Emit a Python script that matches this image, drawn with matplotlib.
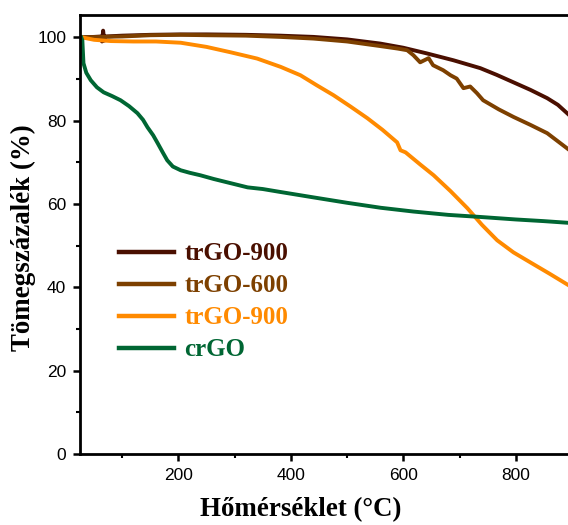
import matplotlib
matplotlib.use("Agg")
import matplotlib.pyplot as plt
from matplotlib.ticker import MultipleLocator

# TGA curves, temperature in C and remaining mass in %
t_900 = [28, 50, 62, 64, 66, 68, 70, 100, 150, 204, 250, 320, 381, 440, 500, 559, 600,
         643, 689, 737, 766, 796, 826, 856, 875, 893]
m_900 = [100, 100.1, 100.2, 99.0, 101.6, 99.2, 100.2, 100.4, 100.6, 100.7, 100.7, 100.6,
         100.4, 100.1, 99.5, 98.5, 97.5, 96.1, 94.5, 92.6, 91.0, 89.2, 87.4, 85.4, 83.8, 81.6]

t_600 = [28, 100, 150, 204, 250, 320, 381, 440, 500, 559, 590, 607, 618, 630, 645, 653,
         671, 684, 695, 707, 719, 731, 742, 770, 796, 826, 856, 893]
m_600 = [100, 100.2, 100.5, 100.6, 100.5, 100.4, 100.1, 99.7, 99.0, 97.9, 97.3, 96.9,
         95.7, 94.0, 95.0, 93.3, 92.1, 90.9, 90.1, 87.8, 88.2, 86.6, 84.9, 82.7, 80.9,
         79.0, 77.0, 73.2]

t_900b = [28, 50, 80, 120, 160, 204, 250, 293, 340, 382, 417, 446, 476, 506, 536, 563,
          589, 595, 604, 630, 654, 684, 714, 740, 767, 796, 826, 860, 893]
m_900b = [100, 99.4, 99.1, 99.0, 99.0, 98.7, 97.7, 96.4, 94.9, 92.9, 90.9, 88.5, 86.1,
          83.4, 80.6, 77.8, 74.8, 72.9, 72.4, 69.5, 66.9, 63.1, 59.0, 55.0, 51.3, 48.4,
          46.0, 43.3, 40.6]

t_cr = [27, 29, 31, 36, 44, 55, 67, 82, 97, 112, 127, 137, 145, 155, 163, 172, 180, 190,
        204, 220, 239, 263, 287, 323, 350, 381, 440, 500, 560, 618, 680, 737, 800, 850, 893]
m_cr = [100, 99.3, 93.8, 91.5, 89.7, 88.0, 86.8, 85.9, 84.9, 83.5, 81.8, 80.2, 78.4, 76.5,
        74.6, 72.4, 70.5, 69.0, 68.1, 67.5, 66.9, 66.0, 65.2, 64.0, 63.6, 62.9, 61.6, 60.3,
        59.1, 58.2, 57.4, 56.9, 56.3, 55.9, 55.5]

labels = ["trGO-900", "trGO-600", "trGO-900", "crGO"]
colors = ["#4a0f00", "#7d4000", "#ff8a00", "#006633"]

fig = plt.figure(figsize=(5.68, 5.25), dpi=100)
ax = fig.add_axes([0.141, 0.135, 0.859, 0.836])

series = [(t_900, m_900), (t_600, m_600), (t_900b, m_900b), (t_cr, m_cr)]
for (t, m), lab, c in zip(series, labels, colors):
    ax.plot(t, m, color=c, lw=2.8, label=lab, solid_joinstyle="round")

ax.set_xlim(25, 893)
ax.set_ylim(0, 105.3)
ax.xaxis.set_major_locator(MultipleLocator(200))
ax.xaxis.set_minor_locator(MultipleLocator(100))
ax.yaxis.set_major_locator(MultipleLocator(20))
ax.yaxis.set_minor_locator(MultipleLocator(10))

for side in ["left", "bottom", "top"]:
    ax.spines[side].set_linewidth(2.0)
ax.spines["right"].set_visible(False)
ax.tick_params(which="major", direction="out", length=5, width=1.8,
               labelsize=12.5, pad=5)
ax.tick_params(which="minor", direction="out", length=3, width=1.5)
ax.tick_params(top=False, which="both")
for lbl in ax.get_xticklabels() + ax.get_yticklabels():
    lbl.set_fontfamily("Liberation Sans")

lab_font = dict(family="Liberation Serif", weight="bold", size=19.4)
ax.set_xlabel("Hőmérséklet (°C)", **lab_font)
ax.set_ylabel("Tömegszázalék (%)", **lab_font)
ax.xaxis.set_label_coords(0.453, -0.098)
ax.yaxis.set_label_coords(-0.09, 0.494)

leg = ax.legend(loc="upper left", bbox_to_anchor=(0.06, 0.505), frameon=False,
                prop=dict(family="Liberation Serif", weight="bold", size=18),
                handlelength=2.2, handletextpad=0.4, labelspacing=0.36,
                borderaxespad=0)
for txt, c in zip(leg.get_texts(), colors):
    txt.set_color(c)
for h in leg.get_lines():
    h.set_linewidth(3.2)

fig.savefig("out.png", dpi=100)
